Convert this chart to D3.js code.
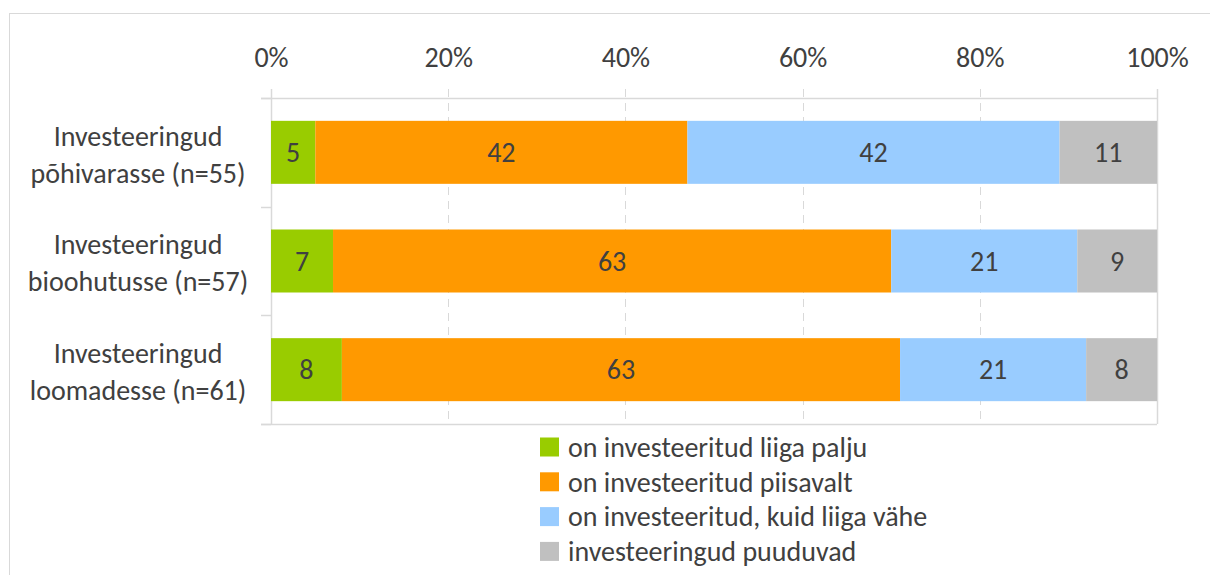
<!DOCTYPE html>
<html>
<head>
<meta charset="utf-8">
<script src="https://cdn.jsdelivr.net/npm/d3@7"></script>
<style>
  body { margin: 0; background: #fff; }
  text { font-family: Carlito, Calibri, "Open Sans", sans-serif; fill: #404040; }
</style>
</head>
<body>
<div id="viz"></div>
<script>
// data
const categories = [
  ['Investeeringud', 'põhivarasse (n=55)'],
  ['Investeeringud', 'bioohutusse (n=57)'],
  ['Investeeringud', 'loomadesse (n=61)']
];
const seriesNames = [
  'on investeeritud liiga palju',
  'on investeeritud piisavalt',
  'on investeeritud, kuid liiga vähe',
  'investeeringud puuduvad'
];
const liigaPalju = [5, 7, 8];
const piisavalt = [42, 63, 63];
const liigaVahe = [42, 21, 21];
const puuduvad = [11, 9, 8];
const tickValues = [0, 20, 40, 60, 80, 100];

const colors = ['#99CC00', '#FF9900', '#99CCFF', '#C0C0C0'];
const allSeries = [liigaPalju, piisavalt, liigaVahe, puuduvad];

const width = 1210, height = 575;
const plotLeft = 271, plotRight = 1157, plotTop = 98, plotBottom = 424;
const fs = '28px';

let svg = d3.select('#viz').append('svg')
  .attr('width', width)
  .attr('height', height);

// outer chart border
svg.append('rect')
  .attr('x', 9.5).attr('y', 13.5)
  .attr('width', 1220).attr('height', 600)
  .attr('fill', 'none')
  .attr('stroke', '#D9D9D9');

let x = d3.scaleLinear().domain([0, 100]).range([plotLeft, plotRight]);
let y = d3.scaleBand().domain(d3.range(categories.length)).range([plotTop, plotBottom]);
const barH = 63;

// gridlines (dashed)
svg.append('g')
  .selectAll('line')
  .data(tickValues.filter(d => d > 0 && d < 100))
  .join('line')
  .attr('x1', d => Math.round(x(d)) + 0.5)
  .attr('x2', d => Math.round(x(d)) + 0.5)
  .attr('y1', plotTop - 9)
  .attr('y2', plotBottom)
  .attr('stroke', '#D9D9D9')
  .attr('stroke-width', 1)
  .attr('stroke-dasharray', '8,6');

// top axis
let xAxis = d3.axisTop(x)
  .tickValues(tickValues)
  .tickFormat(d => d + '%')
  .tickSize(0)
  .tickPadding(0);
let gx = svg.append('g').attr('transform', `translate(0,${plotTop})`).call(xAxis);
gx.select('.domain').remove();
gx.selectAll('text')
  .attr('y', -41)
  .attr('dy', '0.35em')
  .style('font-size', fs)
  .attr('fill', '#404040');

// plot frame lines
const lineCol = '#D9D9D9';
svg.append('line').attr('x1', plotLeft - 10).attr('x2', plotRight).attr('y1', plotTop + 0.5).attr('y2', plotTop + 0.5).attr('stroke', lineCol).attr('stroke-width', 1.5);
svg.append('line').attr('x1', plotLeft - 10).attr('x2', plotRight).attr('y1', plotBottom + 0.5).attr('y2', plotBottom + 0.5).attr('stroke', lineCol).attr('stroke-width', 1.5);
svg.append('line').attr('x1', plotRight + 0.5).attr('x2', plotRight + 0.5).attr('y1', plotTop - 9).attr('y2', plotBottom).attr('stroke', lineCol).attr('stroke-width', 1.5);

// left axis with ticks at category boundaries
let gy = svg.append('g');
gy.append('line').attr('x1', plotLeft + 0.5).attr('x2', plotLeft + 0.5).attr('y1', plotTop - 9).attr('y2', plotBottom).attr('stroke', lineCol).attr('stroke-width', 1.5);
gy.selectAll('.bt')
  .data(d3.range(categories.length + 1))
  .join('line')
  .attr('class', 'bt')
  .attr('x1', plotLeft - 10).attr('x2', plotLeft)
  .attr('y1', d => Math.round(plotTop + d * y.step()) + 0.5)
  .attr('y2', d => Math.round(plotTop + d * y.step()) + 0.5)
  .attr('stroke', lineCol).attr('stroke-width', 1.5);

// category labels
categories.forEach((c, i) => {
  let cy = y(i) + y.bandwidth() / 2;
  let t = svg.append('text')
    .attr('text-anchor', 'middle')
    .style('font-size', fs);
  c.forEach((line, j) => {
    t.append('tspan')
      .attr('x', 138)
      .attr('y', cy + (j - 0.5) * 37 + 2)
      .attr('dy', '0.35em')
      .text(line);
  });
});

// stacked bars
let stacked = [];
categories.forEach((c, i) => {
  let acc = 0;
  allSeries.forEach((s, k) => {
    stacked.push({ row: i, k: k, x0: acc, x1: acc + s[i], v: s[i] });
    acc += s[i];
  });
});

let bars = svg.append('g');
bars.selectAll('rect')
  .data(stacked)
  .join('rect')
  .attr('x', d => x(d.x0))
  .attr('width', d => x(d.x1) - x(d.x0))
  .attr('y', d => y(d.row) + (y.bandwidth() - barH) / 2)
  .attr('height', barH)
  .attr('fill', d => colors[d.k]);

bars.selectAll('text')
  .data(stacked)
  .join('text')
  .attr('x', d => (x(d.x0) + x(d.x1)) / 2)
  .attr('y', d => y(d.row) + y.bandwidth() / 2)
  .attr('dy', '0.35em')
  .attr('text-anchor', 'middle')
  .style('font-size', fs)
  .text(d => d.v);

// legend
let legend = svg.append('g');
seriesNames.forEach((name, i) => {
  let ly = 447 + i * 34.8;
  legend.append('rect')
    .attr('x', 540).attr('y', ly - 9.5)
    .attr('width', 19).attr('height', 19)
    .attr('fill', colors[i]);
  legend.append('text')
    .attr('x', 568).attr('y', ly)
    .attr('dy', '0.35em')
    .style('font-size', fs)
    .text(name);
});
</script>
</body>
</html>
